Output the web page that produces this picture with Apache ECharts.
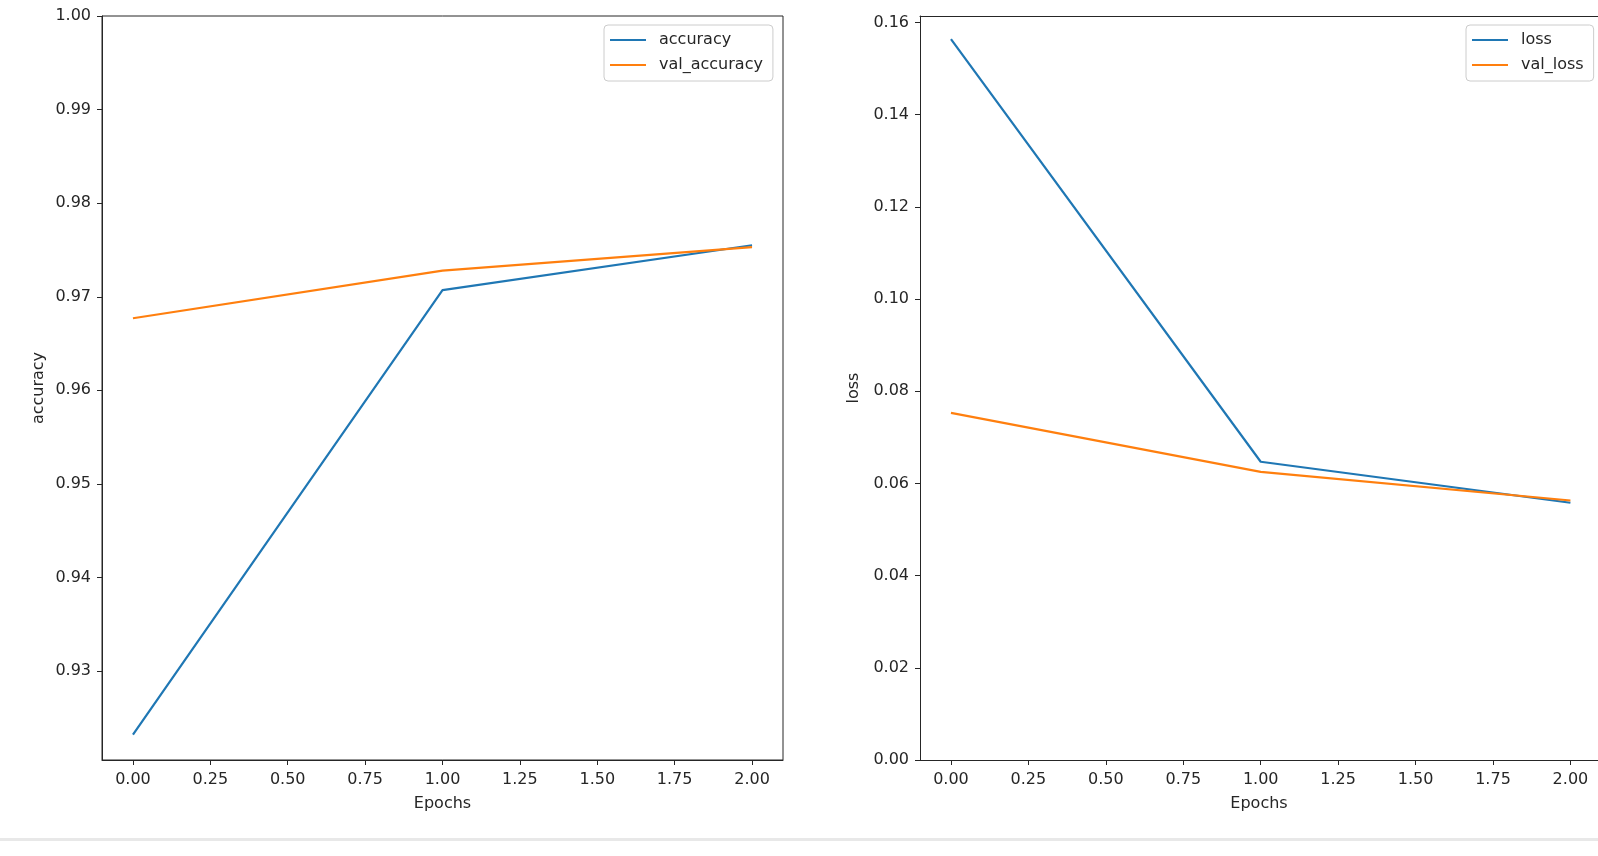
<!DOCTYPE html>
<html>
<head>
<meta charset="utf-8">
<script src="https://cdn.jsdelivr.net/npm/echarts@6/dist/echarts.min.js"></script>
<style>
html,body{margin:0;padding:0;background:#fff;}
#main{width:1598px;height:856px;}
</style>
</head>
<body>
<div id="main"></div>
<script>
const epochs = [0, 1, 2];
const accuracy = [0.9232, 0.9707, 0.9755];
const valAccuracy = [0.9677, 0.9728, 0.9753];
const loss = [0.1564, 0.0647, 0.0558];
const valLoss = [0.0753, 0.0625, 0.0563];
const xTicks = [0, 0.25, 0.5, 0.75, 1, 1.25, 1.5, 1.75, 2];
const accTicks = [0.93, 0.94, 0.95, 0.96, 0.97, 0.98, 0.99, 1.00];
const lossTicks = [0, 0.02, 0.04, 0.06, 0.08, 0.10, 0.12, 0.14, 0.16];

const FONT = 'DejaVu Sans';
const TXT = '#262626';
const AX = '#262626';
const BLUE = '#1f77b4';
const ORANGE = '#ff7f0e';

function pairs(xs, ys) { return xs.map((x, i) => [x, ys[i]]); }

function xAxisCfg(grid, max) {
  return {
    type: 'value', gridIndex: grid, min: -0.1, max: max,
    name: 'Epochs', nameLocation: 'middle', nameGap: 36,
    nameTextStyle: {fontFamily: FONT, fontSize: 16, color: TXT},
    axisLine: {show: true, onZero: false, lineStyle: {color: AX, width: 1}},
    axisTick: {show: true, length: 5, customValues: xTicks, lineStyle: {color: AX, width: 1}},
    axisLabel: {customValues: xTicks, margin: 12, fontFamily: FONT, fontSize: 16, color: TXT,
      formatter: v => v.toFixed(2)},
    splitLine: {show: false}
  };
}
function topSpine(grid, max) {
  return {
    type: 'value', gridIndex: grid, position: 'top', min: -0.1, max: max,
    axisLine: {show: true, onZero: false, lineStyle: {color: AX, width: 1}},
    axisTick: {show: false}, axisLabel: {show: false}, splitLine: {show: false}
  };
}
function yAxisCfg(grid, min, max, ticks, name, gap) {
  return {
    type: 'value', gridIndex: grid, min: min, max: max,
    name: name, nameLocation: 'middle', nameGap: gap,
    nameTextStyle: {fontFamily: FONT, fontSize: 16, color: TXT},
    axisLine: {show: true, onZero: false, lineStyle: {color: AX, width: 1}},
    axisTick: {show: true, length: 5, customValues: ticks, lineStyle: {color: AX, width: 1}},
    axisLabel: {customValues: ticks, margin: 11, fontFamily: FONT, fontSize: 16, color: TXT,
      formatter: v => v.toFixed(2)},
    splitLine: {show: false}
  };
}
function legendCfg(left, names) {
  return {
    data: names, orient: 'vertical', left: left, top: 25,
    icon: 'rect', itemWidth: 36, itemHeight: 2, itemGap: 9,
    padding: [7, 10, 8, 6],
    borderColor: '#cccccc', borderWidth: 1, borderRadius: 4,
    backgroundColor: 'rgba(255,255,255,0.8)',
    textStyle: {fontFamily: FONT, fontSize: 16, color: TXT, padding: [0, 0, 0, 8]}
  };
}
function lineSeries(name, xi, yi, data, color) {
  return {
    name: name, type: 'line', xAxisIndex: xi, yAxisIndex: yi,
    data: data, showSymbol: false, symbol: 'none', animation: false,
    lineStyle: {color: color, width: 2.2}, itemStyle: {color: color}
  };
}

const chart = echarts.init(document.getElementById('main'), null, {renderer: 'canvas'});
chart.setOption({
  animation: false,
  backgroundColor: '#ffffff',
  grid: [
    {left: 102, top: 16, width: 681, height: 744, show: true, borderColor: AX, borderWidth: 1, backgroundColor: 'transparent'},
    {left: 920, top: 16, width: 678, height: 744, show: false}
  ],
  xAxis: [xAxisCfg(0, 2.1), xAxisCfg(1, 2.089), topSpine(1, 2.089)],
  yAxis: [
    yAxisCfg(0, 0.9205, 1.0, accTicks, 'accuracy', 55),
    yAxisCfg(1, 0, 0.1614, lossTicks, 'loss', 58)
  ],
  legend: [
    legendCfg(604, ['accuracy', 'val_accuracy']),
    legendCfg(1466, ['loss', 'val_loss'])
  ],
  series: [
    lineSeries('accuracy', 0, 0, pairs(epochs, accuracy), BLUE),
    lineSeries('val_accuracy', 0, 0, pairs(epochs, valAccuracy), ORANGE),
    lineSeries('loss', 1, 1, pairs(epochs, loss), BLUE),
    lineSeries('val_loss', 1, 1, pairs(epochs, valLoss), ORANGE)
  ],
  graphic: [
    {type: 'rect', left: 0, top: 838, shape: {width: 1598, height: 3}, style: {fill: '#e8e8e8'}, silent: true}
  ]
});
</script>
</body>
</html>
